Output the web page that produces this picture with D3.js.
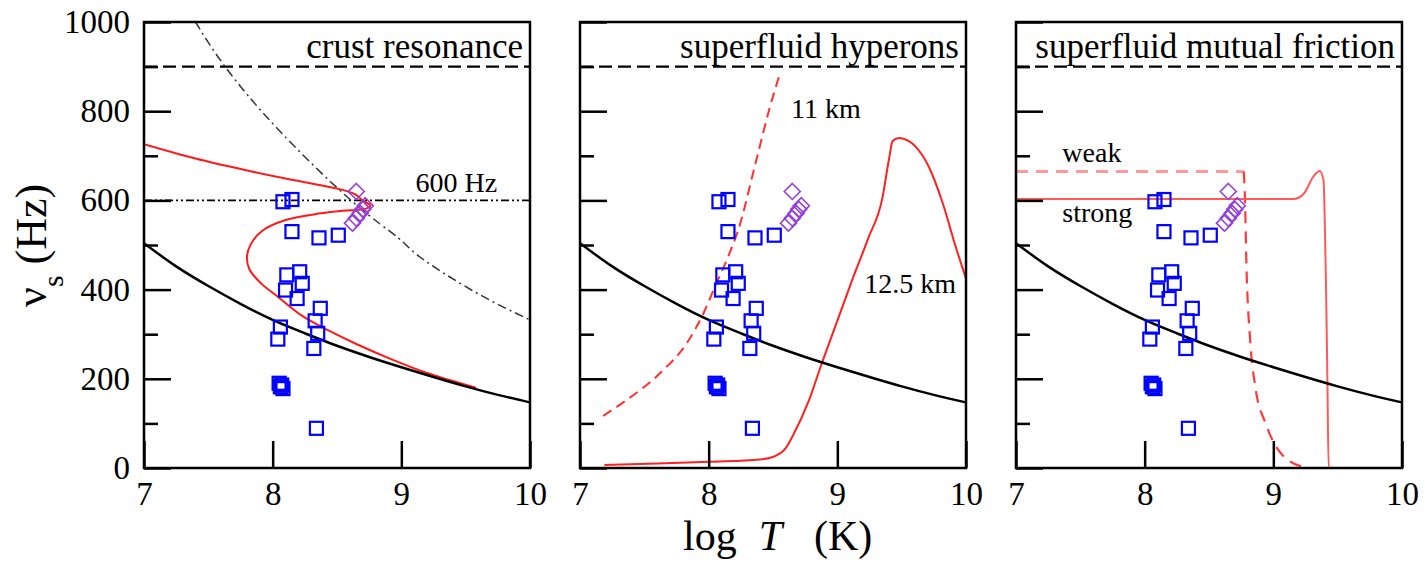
<!DOCTYPE html>
<html>
<head>
<meta charset="utf-8">
<script src="https://cdn.jsdelivr.net/npm/d3@7"></script>
<style>
  body { margin: 0; background: #fff; }
  text { font-family: "Liberation Serif", "Times New Roman", serif; fill: #000; }
</style>
</head>
<body>
<div class="chart"></div>
<script>
// ---- data (log T, nu_s in Hz) ----
var xTicks = [7, 8, 9, 10];
var yTicks = [0, 200, 400, 600, 800, 1000];
var yMinorTicks = [100, 300, 500, 700, 900];
var panelTitles = ["crust resonance", "superfluid hyperons", "superfluid mutual friction"];
var keplerLevel = 900;
var level600 = 600;

// black r-mode instability curve (same in every panel)
var blackCurve = [[7.0, 504], [7.25, 452], [7.5, 408], [7.75, 368], [8.0, 332], [8.25, 302], [8.5, 274],
  [8.75, 249], [9.0, 226], [9.25, 204], [9.5, 183], [9.75, 164], [10.0, 147]];

// observed LMXBs
var squares = [[8.08, 597], [8.15, 602], [8.15, 530], [8.36, 516], [8.51, 522], [8.11, 433], [8.21, 440],
  [8.10, 399], [8.23, 414], [8.19, 380], [8.37, 358], [8.33, 330], [8.06, 316], [8.04, 289], [8.35, 302],
  [8.32, 268], [8.05, 190], [8.07, 186], [8.06, 182], [8.08, 178], [8.34, 89]];
var diamonds = [[8.65, 620], [8.72, 588], [8.70, 580], [8.68, 571], [8.65, 560], [8.62, 549]];

// panel 1: crust resonance
var crustCurve = [[7.0, 726], [7.4, 694], [7.82, 666], [8.1, 649], [8.375, 634], [8.55, 623], [8.64, 614],
  [8.7, 600], [8.76, 588], [8.72, 581], [8.55, 577], [8.375, 571], [8.1, 556], [7.92, 532], [7.83, 502],
  [7.8, 473], [7.82, 445], [7.91, 414], [8.04, 384], [8.23, 341], [8.43, 309], [8.65, 278], [8.93, 243],
  [9.2, 213], [9.58, 180]];
var dashDotCurve = [[7.40, 1000], [7.63, 900], [8.04, 760], [8.61, 600], [8.98, 515], [9.15, 472],
  [9.57, 395], [10.0, 332]];

// panel 2: superfluid hyperons
var hyperon11 = [[7.18, 117], [7.36, 152], [7.62, 212], [7.83, 280], [7.96, 347], [8.06, 414], [8.14, 466],
  [8.23, 534], [8.37, 690], [8.47, 803], [8.55, 881]];
var hyperon125 = [[7.19, 7], [7.6, 10], [8.01, 14], [8.4, 19], [8.52, 27], [8.6, 45], [8.65, 70], [8.78, 152],
  [8.87, 227], [9.0, 330], [9.12, 425], [9.24, 515], [9.35, 605], [9.40, 690], [9.43, 733], [9.48, 740],
  [9.55, 734], [9.61, 720], [9.71, 676], [9.82, 593], [9.92, 496], [10.0, 425]];

// panel 3: mutual friction
var weakCurve = [[7.0, 665], [8.77, 665], [8.78, 600], [8.79, 466], [8.82, 287], [8.86, 182], [8.94, 100],
  [9.04, 40], [9.22, 3]];
var strongCurve = [[7.0, 603], [9.16, 603], [9.24, 616], [9.31, 653], [9.36, 666], [9.39, 646], [9.40, 550],
  [9.41, 400], [9.42, 200], [9.43, 0], [9.65, 0]];

// text labels placed in data coordinates
var notes = [
  {panel: 0, x: 9.11, y: 619, text: "600 Hz"},
  {panel: 1, x: 8.64, y: 785, text: "11 km"},
  {panel: 1, x: 9.21, y: 392, text: "12.5 km"},
  {panel: 2, x: 7.36, y: 686, text: "weak"},
  {panel: 2, x: 7.36, y: 552, text: "strong"}
];

// ---- layout ----
var svgWidth = 1425, svgHeight = 562;
var margin = {top: 22, left: 144};
var width = 386, gap = 50, height = 446;

var svg = d3.select(".chart").append("svg")
  .attr("width", svgWidth)
  .attr("height", svgHeight);

svg.append("defs").append("clipPath").attr("id", "clip")
  .append("rect").attr("width", width).attr("height", height);

var xScale = d3.scaleLinear().domain([7, 10]).range([0, width]);
var yScale = d3.scaleLinear().domain([0, 1000]).range([height, 0]);

var lineSmooth = d3.line().x(d => xScale(d[0])).y(d => yScale(d[1])).curve(d3.curveMonotoneX);
var lineLoop = d3.line().x(d => xScale(d[0])).y(d => yScale(d[1])).curve(d3.curveCatmullRom);
var lineNatural = d3.line().x(d => xScale(d[0])).y(d => yScale(d[1])).curve(d3.curveNatural);

function addCurve(g, data, gen, color, w, dash) {
  g.append("path")
    .datum(data)
    .attr("clip-path", "url(#clip)")
    .attr("fill", "none")
    .attr("stroke", color)
    .attr("stroke-width", w)
    .attr("stroke-dasharray", dash || null)
    .attr("d", gen);
}

panelTitles.forEach(function (title, i) {
  var g = svg.append("g")
    .attr("transform", `translate(${margin.left + i * (width + gap)}, ${margin.top})`);

  // 900 Hz dashed line
  addCurve(g, [[7, keplerLevel], [10, keplerLevel]], lineSmooth, "#000", 2.2, "13,6");

  // panel-specific curves
  if (i === 0) {
    addCurve(g, [[7, level600], [10, level600]], lineSmooth, "#000", 1.8, "8,3,2,3,2,3");
    addCurve(g, dashDotCurve, lineNatural, "#333", 1.5, "9,4,2,4");
    addCurve(g, crustCurve, lineLoop, "#ff1a1a", 2);
  } else if (i === 1) {
    addCurve(g, hyperon11, lineSmooth, "#ff3030", 2, "10,6");
    addCurve(g, hyperon125, lineSmooth, "#ff2020", 2);
  } else {
    // weak: pale horizontal plateau, redder drop
    addCurve(g, weakCurve.slice(0, 2), lineSmooth, "#ff9a9a", 3, "12,8");
    addCurve(g, weakCurve.slice(1), lineSmooth, "#ff3a3a", 2.2, "12,8");
    addCurve(g, strongCurve, lineSmooth, "#ff5a5a", 2);
  }

  addCurve(g, blackCurve, lineNatural, "#000", 2.5);

  // data points
  g.selectAll(".sq")
    .data(squares)
    .enter()
    .append("rect")
    .attr("x", d => xScale(d[0]) - 6.5)
    .attr("y", d => yScale(d[1]) - 6.5)
    .attr("width", 13)
    .attr("height", 13)
    .attr("fill", "none")
    .attr("stroke", "#0000ff")
    .attr("stroke-width", 2.2);

  g.selectAll(".dm")
    .data(diamonds)
    .enter()
    .append("path")
    .attr("transform", d => `translate(${xScale(d[0])}, ${yScale(d[1])})`)
    .attr("d", "M0,-8L8,0L0,8L-8,0Z")
    .attr("fill", "none")
    .attr("stroke", "#9440d8")
    .attr("stroke-width", 1.6);

  // axes: ticks inside the frame
  g.append("g")
    .call(d3.axisLeft(yScale).tickValues(yTicks).tickSize(-27).tickPadding(14)
      .tickFormat(i === 0 ? d3.format("d") : ""));
  g.append("g")
    .call(d3.axisLeft(yScale).tickValues(yMinorTicks).tickSize(-14).tickFormat(""));

  g.append("g")
    .attr("transform", `translate(0, ${height})`)
    .call(d3.axisBottom(xScale).tickValues(xTicks).tickSize(-27).tickPadding(14)
      .tickFormat(d3.format("d")));

  g.selectAll(".domain").remove();
  g.selectAll(".tick line").attr("stroke", "#000").attr("stroke-width", 2.5);
  g.selectAll(".tick text")
    .attr("font-size", 33)
    .attr("font-family", "Liberation Serif, serif")
    .attr("fill", "#000");

  // frame
  g.append("rect")
    .attr("width", width)
    .attr("height", height)
    .attr("fill", "none")
    .attr("stroke", "#000")
    .attr("stroke-width", 2.5);

  // title
  g.append("text")
    .attr("x", width - 7)
    .attr("y", 36)
    .attr("text-anchor", "end")
    .attr("font-size", 35)
    .text(title);

  notes.filter(n => n.panel === i).forEach(function (n) {
    g.append("text")
      .attr("x", xScale(n.x))
      .attr("y", yScale(n.y))
      .attr("font-size", 28)
      .text(n.text);
  });
});

// axis labels
var xLabel = svg.append("text")
  .attr("x", 683)
  .attr("y", 550)
  .attr("font-size", 42);
xLabel.append("tspan").text("log");
xLabel.append("tspan").attr("dx", 22).attr("font-style", "italic").text("T");
xLabel.append("tspan").attr("dx", 32).text("(K)");

var yLabel = svg.append("text")
  .attr("transform", "translate(46, 307) rotate(-90)")
  .attr("font-size", 44);
yLabel.append("tspan").text("\u03bd");
yLabel.append("tspan").attr("font-size", 30).attr("dy", 17).text("s");
yLabel.append("tspan").attr("dy", -17).attr("dx", 11).text("(Hz)");
</script>
</body>
</html>
